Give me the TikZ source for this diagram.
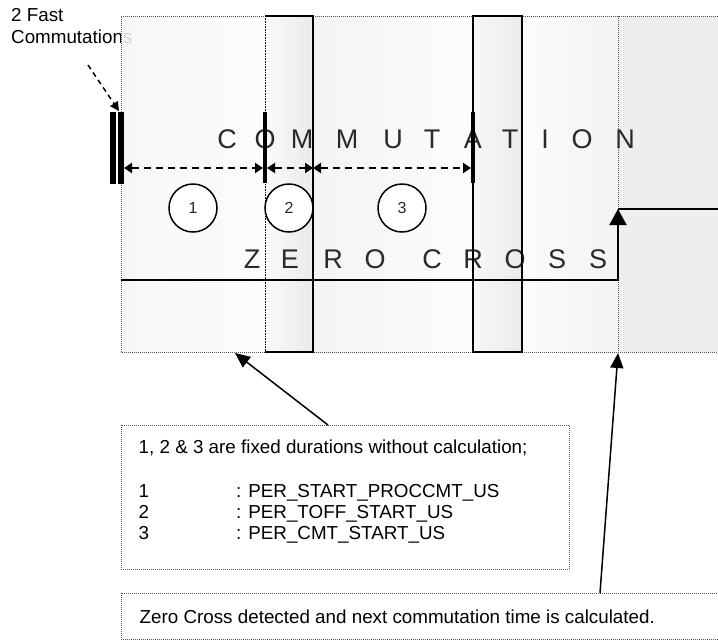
\documentclass[tikz,border=0pt]{standalone}
\usepackage{fontspec}
\setmainfont{Liberation Sans}
\usetikzlibrary{arrows.meta}
\definecolor{bordergray}{HTML}{555555}
\definecolor{txtgray}{HTML}{2A2A2A}
\definecolor{gA}{HTML}{F6F6F6}
\definecolor{gAm}{HTML}{E8E8E8}
\definecolor{gAr}{HTML}{FBFBFB}
\definecolor{gB}{HTML}{F9F9F9}
\definecolor{gBr}{HTML}{E6E6E6}
\definecolor{gC}{HTML}{F2F2F2}
\definecolor{gCm}{HTML}{EAEAEA}
\definecolor{gCr}{HTML}{FCFCFC}
\definecolor{gD}{HTML}{F6F6F6}
\definecolor{gDr}{HTML}{E8E8E8}
\definecolor{gE}{HTML}{FBFBFB}
\definecolor{gEr}{HTML}{F1F1F1}
\definecolor{gF}{HTML}{EBEBEB}
\begin{document}
\begin{tikzpicture}[x=1pt,y=-1pt,
  dotline/.style={draw=bordergray,line width=0.9pt,dash pattern=on 1pt off 1pt},
  bigletter/.style={font=\fontsize{27}{27}\selectfont,text=txtgray,inner sep=0pt,anchor=base},
  smalltxt/.style={font=\fontsize{18.8}{22}\selectfont,inner sep=0pt,anchor=base west},
  numcirc/.style={circle,draw,fill=white,line width=1.5pt,minimum size=48pt,inner sep=0pt,font=\fontsize{16}{16}\selectfont,text=txtgray},
  dblarrow/.style={line width=2pt,dash pattern=on 7pt off 5pt,{Triangle[length=8pt,width=10pt]}-{Triangle[length=8pt,width=10pt]}},
  callout/.style={line width=1.5pt,-{Triangle[length=15pt,width=13pt]}},
  signal/.style={line width=2pt}
]
\useasboundingbox (0,0) rectangle (718,643);

% side label
\node[smalltxt] (fast1) at (11,21) {2 Fast};
\node[smalltxt] (fast2) at (11,43) {Commutations};

% background bands
\begin{scope}[fill opacity=0.85]
\shade[left color=gA,middle color=gAm,right color=gAr] (121,16) rectangle (265,352);
\shade[left color=gB,right color=gBr] (265,16) rectangle (313,352);
\shade[left color=gC,middle color=gCm,right color=gCr] (313,16) rectangle (473,352);
\shade[left color=gD,right color=gDr] (473,16) rectangle (522,352);
\shade[left color=gE,right color=gEr] (522,16) rectangle (618,352);
\fill[gF] (618,16) rectangle (718,352);
\end{scope}

% main dotted frame and zero-cross instant
\draw[dotline] (718,16) -- (121,16) -- (121,352) -- (718,352);
\draw[dotline] (618,16) -- (618,352);

% letters
\foreach \ch/\xx [count=\i] in {C/227,O/265,M/302,M/347,U/393,T/432,A/473,T/510,I/545,O/582,N/625}
  \node[bigletter] (cm\i) at (\xx,148) {\ch};
\foreach \ch/\xx [count=\i] in {Z/252,E/290,R/333,O/375,C/432,R/473,O/515,S/557,S/598}
  \node[bigletter] (zc\i) at (\xx,268) {\ch};

% commutation windows
\draw[line width=1.4pt] (265,16) -- (313,16) -- (313,352) -- (265,352);
\draw[line width=1pt,dash pattern=on 1pt off 0.6pt] (265,16) -- (265,352);
\draw[line width=1.4pt] (473,16) rectangle (522,352);

% thick commutation bars
\draw[line width=6pt] (113,112) -- (113,184);
\draw[line width=5.5pt] (121,112) -- (121,184);
\draw[line width=4.5pt] (265,112) -- (265,183);
\draw[line width=4.5pt] (473,112) -- (473,183);

% fast commutation pointer
\coordinate (fa) at (88,65);
\coordinate (fb) at (119,111);
\draw[line width=1.5pt,dash pattern=on 5pt off 4pt,-{Triangle[length=9pt,width=9pt]}] (fa) -- (fb);

% duration arrows
\coordinate (d0) at (124,168);
\coordinate (d1) at (263,168);
\coordinate (d2) at (267,168);
\coordinate (d3) at (313,168);
\coordinate (d4) at (471,168);
\draw[dblarrow] (d0) -- (d1);
\draw[dblarrow] (d2) -- (d3);
\draw[dblarrow] (d3) -- (d4);

% numbered circles
\node[numcirc] (c1) at (193,208) {1};
\node[numcirc] (c2) at (289,208) {2};
\node[numcirc] (c3) at (402,208) {3};

% zero cross signal
\coordinate (z0) at (121,280);
\coordinate (z1) at (618,280);
\coordinate (z2) at (618,209);
\coordinate (z3) at (718,209);
\draw[signal,-{Triangle[length=16pt,width=17pt]}] (z0) -- (z1) -- (z2);
\draw[signal] (z2) -- (z3);

% note boxes
\node[dotline,minimum width=448pt,minimum height=144pt,inner sep=0pt] (box1) at (345,497) {};
\node[dotline,minimum width=620pt,minimum height=46pt,inner sep=0pt] (box2) at (431,616) {};

\node[smalltxt] (t0) at (138.5,453) {1, 2 \& 3 are fixed durations without calculation;};
\node[smalltxt] (n1) at (138.5,497) {1};
\node[smalltxt] (p1) at (236,497) {: PER\_START\_PROCCMT\_US};
\node[smalltxt] (n2) at (138.5,518) {2};
\node[smalltxt] (p2) at (236,518) {: PER\_TOFF\_START\_US};
\node[smalltxt] (n3) at (138.5,539) {3};
\node[smalltxt] (p3) at (236,539) {: PER\_CMT\_START\_US};
\node[smalltxt] (t4) at (139.5,623) {Zero Cross detected and next commutation time is calculated.};

% callouts
\coordinate (k1s) at (328,425);
\coordinate (k1e) at (235,353);
\coordinate (k2s) at (600,593);
\coordinate (k2e) at (618,353);
\draw[callout] (k1s) -- (k1e);
\draw[callout] (k2s) -- (k2e);
\end{tikzpicture}
\end{document}
